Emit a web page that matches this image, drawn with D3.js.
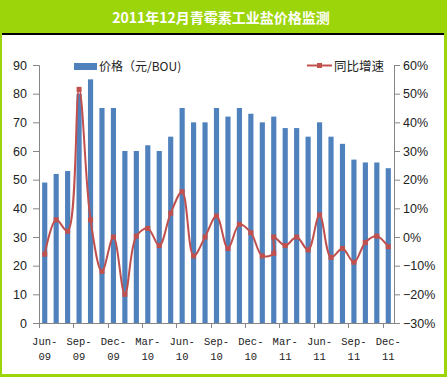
<!DOCTYPE html>
<html><head><meta charset="utf-8">
<script src="https://cdn.jsdelivr.net/npm/d3@7"></script>
<style>body{margin:0;background:#fff}svg{display:block}</style>
</head><body>
<script>
const titleText = "2011年12月青霉素工业盐价格监测";
const months = ["Jun-09","Jul-09","Aug-09","Sep-09","Oct-09","Nov-09","Dec-09",
  "Jan-10","Feb-10","Mar-10","Apr-10","May-10","Jun-10","Jul-10","Aug-10","Sep-10","Oct-10","Nov-10","Dec-10",
  "Jan-11","Feb-11","Mar-11","Apr-11","May-11","Jun-11","Jul-11","Aug-11","Sep-11","Oct-11","Nov-11","Dec-11"];
const priceValues = [49,52,53,80,85,75,75,60,60,62,60,65,75,70,70,75,72,75,73,70,72,68,68,65,70,65,62.5,57,56,56,54];
const growthMonths = ["Jun-09","Jul-09","Aug-09","Sep-09","Oct-09","Nov-09","Dec-09",
  "Jan-10","Feb-10","Mar-10","Apr-10","May-10","Jun-10","Jul-10","Aug-10","Sep-10","Oct-10","Nov-10","Dec-10",
  "Jan-11","Feb-11","Feb-11","Mar-11","Apr-11","May-11","Jun-11","Jul-11","Aug-11","Sep-11","Oct-11","Nov-11","Dec-11"];
const growthValues = [-6,6,2,51.5,6,-12,0,-20,0.3,3,-3,8.3,15.8,-6.6,0,7.3,-4,4.4,1.5,-6.6,-5.7,0,-3,0,-4.5,7.7,-7.1,-4,-8.8,-1.9,0.3,-3.4];
const leftTicks = [0,10,20,30,40,50,60,70,80,90];
const rightTicks = [-30,-20,-10,0,10,20,30,40,50,60];
const labelMonths = ["Jun-09","Sep-09","Dec-09","Mar-10","Jun-10","Sep-10","Dec-10","Mar-11","Jun-11","Sep-11","Dec-11"];
const seriesNames = ["价格（元/BOU)","同比增速"];

const W=447,H=377;
const green="#9DD50B", blue="#4F81BD", red="#C0504D", axisC="#868686";
const svg=d3.select("body").append("svg").attr("width",W).attr("height",H);
svg.append("rect").attr("width",W).attr("height",H).attr("fill",green);
svg.append("rect").attr("x",2).attr("y",33).attr("width",442).attr("height",341).attr("fill","#fff");
svg.append("rect").attr("x",2).attr("y",33).attr("width",442).attr("height",2).attr("fill","#000");
svg.append("text").attr("x",221).attr("y",23).attr("text-anchor","middle")
  .attr("font-family","'Noto Sans CJK SC'").attr("font-weight","bold").attr("font-size",14)
  .attr("fill","#fff").text(titleText);

const x=d3.scaleBand().domain(months).range([39,394]).paddingInner(0.55).paddingOuter(0.275);
const yL=d3.scaleLinear().domain([0,90]).range([323,65]);
const yR=d3.scaleLinear().domain([-30,60]).range([323,65]);

// bars
svg.append("g").selectAll("rect").data(months).join("rect")
  .attr("x",d=>x(d)).attr("width",x.bandwidth())
  .attr("y",(d,i)=>yL(priceValues[i])).attr("height",(d,i)=>yL(0)-yL(priceValues[i]))
  .attr("fill",blue);

// axes
const tickFont="'Liberation Sans', Arial, sans-serif";
const gl=svg.append("g").attr("transform","translate(39,0)")
  .call(d3.axisLeft(yL).tickValues(leftTicks).tickSize(6).tickPadding(6).tickFormat(d3.format("d")));
const gr=svg.append("g").attr("transform","translate(394,0)")
  .call(d3.axisRight(yR).tickValues(rightTicks).tickSize(6).tickPadding(3).tickFormat(d=>(d<0?"−"+(-d):d)+"%"));
[gl,gr].forEach(g=>{
  g.select(".domain").attr("stroke",axisC);
  g.selectAll(".tick line").attr("stroke",axisC);
  g.selectAll("text").attr("font-family",tickFont).attr("font-size",12.5).attr("fill","#222");
});
// bottom axis
const gb=svg.append("g");
gb.append("line").attr("x1",39).attr("x2",394).attr("y1",323.5).attr("y2",323.5).attr("stroke",axisC);
const tickPos=d3.range(0,months.length,3).map(i=>x(months[i])-x.step()*x.paddingInner()/2- (i===0? x.step()*(x.paddingOuter()-x.paddingInner()/2):0));
gb.selectAll("line.t").data(tickPos).join("line").attr("class","t")
  .attr("x1",d=>Math.round(d)+0.5).attr("x2",d=>Math.round(d)+0.5).attr("y1",323).attr("y2",328).attr("stroke",axisC);
const lab=gb.selectAll("text").data(labelMonths).join("text")
  .attr("font-family","'Liberation Mono', monospace").attr("font-size",10.5).attr("fill","#222")
  .attr("text-anchor","middle");
lab.append("tspan").attr("x",d=>x(d)+x.bandwidth()/2).attr("y",345).text(d=>d.slice(0,4));
lab.append("tspan").attr("x",d=>x(d)+x.bandwidth()/2).attr("y",360).text(d=>d.slice(4));

// line
const pts=growthMonths.map((m,i)=>[x(m)+x.bandwidth()/2,yR(growthValues[i])]);
svg.append("path").attr("d",d3.line().curve(d3.curveCatmullRom.alpha(0.5))(pts))
  .attr("fill","none").attr("stroke",red).attr("stroke-width",2);
svg.append("g").selectAll("rect").data(pts).join("rect")
  .attr("x",d=>d[0]-2.5).attr("y",d=>d[1]-2.5).attr("width",5).attr("height",5).attr("fill",red);

// legend
const lf="'Noto Sans CJK SC', sans-serif";
svg.append("rect").attr("x",74).attr("y",63).attr("width",23).attr("height",7).attr("fill",blue);
svg.append("text").attr("x",99).attr("y",71).attr("font-family",lf).attr("font-size",12).attr("fill","#222").text(seriesNames[0]);
svg.append("line").attr("x1",307).attr("x2",332).attr("y1",65.5).attr("y2",65.5).attr("stroke",red).attr("stroke-width",2);
svg.append("rect").attr("x",317).attr("y",63).attr("width",5).attr("height",5).attr("fill",red);
svg.append("text").attr("x",334).attr("y",71).attr("font-family",lf).attr("font-size",12.5).attr("fill","#222").text(seriesNames[1]);
</script>
</body></html>
